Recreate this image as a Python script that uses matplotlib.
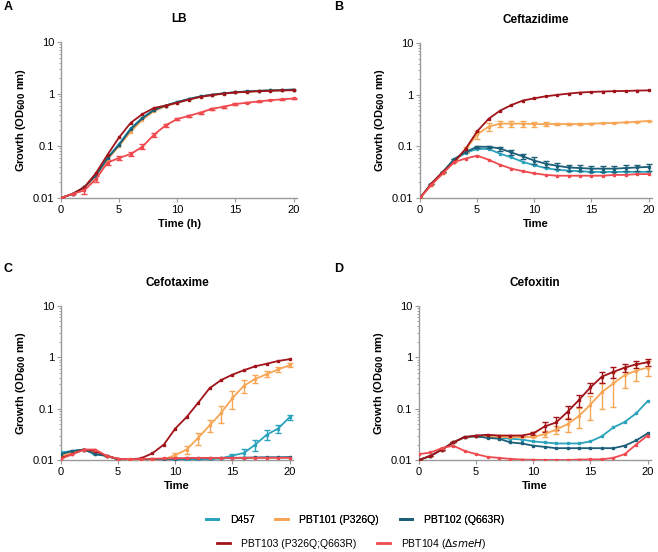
import numpy as np
import matplotlib.pyplot as plt
from matplotlib.ticker import LogLocator, FixedLocator, NullFormatter

plt.rcParams['font.family'] = ['Liberation Sans', 'DejaVu Sans']

hours = list(range(21))
strains = ['D457', 'PBT101 (P326Q)', 'PBT102 (Q663R)', 'PBT103 (P326Q;Q663R)', 'PBT104 ($\\Delta$$\\it{smeH}$)']
colors = ['#2ba3bd', '#f6a655', '#1c5f78', '#a0141a', '#ef4a50']

# panel A - LB
lb_d457 = [0.01, 0.012, 0.016, 0.028, 0.06, 0.11, 0.22, 0.35, 0.5, 0.6, 0.7, 0.8, 0.9, 0.97, 1.03, 1.08, 1.12, 1.15, 1.18, 1.2, 1.22]
lb_101 = [0.01, 0.012, 0.016, 0.026, 0.055, 0.1, 0.19, 0.32, 0.47, 0.58, 0.68, 0.79, 0.89, 0.96, 1.02, 1.07, 1.11, 1.14, 1.17, 1.19, 1.21]
lb_102 = [0.01, 0.012, 0.016, 0.027, 0.058, 0.105, 0.21, 0.34, 0.49, 0.6, 0.7, 0.8, 0.9, 0.97, 1.03, 1.08, 1.12, 1.15, 1.17, 1.19, 1.21]
lb_103 = [0.01, 0.012, 0.016, 0.03, 0.068, 0.147, 0.28, 0.41, 0.54, 0.6, 0.68, 0.78, 0.88, 0.95, 1.02, 1.07, 1.1, 1.13, 1.15, 1.17, 1.18]
lb_104 = [0.01, 0.012, 0.014, 0.023, 0.048, 0.059, 0.07, 0.097, 0.165, 0.25, 0.33, 0.38, 0.44, 0.52, 0.57, 0.64, 0.68, 0.72, 0.76, 0.79, 0.82]

# panel B - Ceftazidime
caz_d457 = [0.01, 0.019, 0.032, 0.055, 0.075, 0.089, 0.089, 0.072, 0.061, 0.05, 0.043, 0.038, 0.035, 0.034, 0.033, 0.032, 0.032, 0.032, 0.032, 0.032, 0.032]
caz_101 = [0.01, 0.018, 0.03, 0.05, 0.088, 0.17, 0.24, 0.275, 0.275, 0.275, 0.27, 0.27, 0.27, 0.27, 0.27, 0.275, 0.28, 0.285, 0.29, 0.3, 0.31]
caz_102 = [0.01, 0.019, 0.032, 0.057, 0.078, 0.098, 0.098, 0.091, 0.076, 0.064, 0.053, 0.046, 0.042, 0.039, 0.038, 0.037, 0.037, 0.037, 0.038, 0.039, 0.04]
caz_103 = [0.01, 0.019, 0.032, 0.05, 0.09, 0.195, 0.34, 0.49, 0.63, 0.77, 0.85, 0.93, 0.99, 1.05, 1.1, 1.13, 1.15, 1.17, 1.18, 1.2, 1.21]
caz_104 = [0.01, 0.018, 0.03, 0.05, 0.058, 0.066, 0.055, 0.044, 0.037, 0.033, 0.03, 0.028, 0.027, 0.027, 0.027, 0.027, 0.027, 0.028, 0.028, 0.029, 0.029]

# panel C - Cefotaxime
ctx_d457 = [0.014, 0.015, 0.016, 0.013, 0.012, 0.0105, 0.01, 0.0101, 0.0101, 0.0101, 0.0101, 0.0101, 0.0102, 0.0103, 0.0108, 0.0122, 0.0137, 0.02, 0.031, 0.041, 0.068]
ctx_101 = [0.012, 0.014, 0.016, 0.014, 0.012, 0.0105, 0.01, 0.0098, 0.0098, 0.0103, 0.0125, 0.016, 0.027, 0.047, 0.082, 0.16, 0.28, 0.38, 0.47, 0.58, 0.7]
ctx_102 = [0.013, 0.015, 0.016, 0.013, 0.012, 0.0102, 0.01, 0.0102, 0.0104, 0.0105, 0.0106, 0.0107, 0.0108, 0.0109, 0.011, 0.011, 0.0111, 0.0112, 0.0113, 0.0113, 0.0114]
ctx_103 = [0.011, 0.013, 0.016, 0.015, 0.012, 0.0105, 0.0102, 0.0108, 0.0135, 0.02, 0.041, 0.069, 0.13, 0.25, 0.36, 0.46, 0.56, 0.67, 0.75, 0.85, 0.92]
ctx_104 = [0.0105, 0.013, 0.016, 0.016, 0.012, 0.0105, 0.0103, 0.0105, 0.0106, 0.0107, 0.0108, 0.0109, 0.011, 0.011, 0.011, 0.011, 0.011, 0.011, 0.011, 0.011, 0.011]

# panel D - Cefoxitin
fox_d457 = [0.01, 0.012, 0.016, 0.022, 0.028, 0.029, 0.028, 0.027, 0.026, 0.025, 0.023, 0.022, 0.021, 0.021, 0.021, 0.023, 0.029, 0.043, 0.055, 0.081, 0.14]
fox_101 = [0.01, 0.012, 0.016, 0.022, 0.028, 0.029, 0.028, 0.028, 0.028, 0.028, 0.028, 0.032, 0.039, 0.05, 0.072, 0.12, 0.21, 0.31, 0.45, 0.55, 0.63]
fox_102 = [0.01, 0.012, 0.016, 0.022, 0.028, 0.029, 0.027, 0.026, 0.022, 0.021, 0.019, 0.018, 0.017, 0.017, 0.017, 0.017, 0.017, 0.017, 0.019, 0.024, 0.033]
fox_103 = [0.01, 0.012, 0.016, 0.022, 0.028, 0.03, 0.031, 0.03, 0.03, 0.03, 0.033, 0.045, 0.054, 0.087, 0.148, 0.26, 0.42, 0.52, 0.63, 0.73, 0.8]
fox_104 = [0.013, 0.014, 0.017, 0.019, 0.015, 0.013, 0.0115, 0.011, 0.0105, 0.0102, 0.0101, 0.01, 0.01, 0.01, 0.0102, 0.0103, 0.0103, 0.011, 0.013, 0.02, 0.03]

# visible error bars (absolute half-width), others left out
ctx_101_err = [0, 0, 0, 0, 0, 0, 0, 0, 0, 0, 0.001, 0.003, 0.007, 0.012, 0.03, 0.06, 0.08, 0.07, 0.06, 0.06, 0.06]
ctx_d457_err = [0, 0, 0, 0, 0, 0, 0, 0, 0, 0, 0, 0, 0, 0, 0, 0.001, 0.003, 0.005, 0.007, 0.007, 0.008]
fox_103_err = [0, 0, 0, 0, 0, 0, 0, 0, 0, 0, 0.002, 0.01, 0.015, 0.025, 0.04, 0.06, 0.1, 0.12, 0.12, 0.12, 0.12]
fox_101_err = [0, 0, 0, 0, 0, 0, 0, 0, 0, 0, 0, 0.004, 0.007, 0.015, 0.03, 0.06, 0.11, 0.2, 0.2, 0.2, 0.2]
caz_102_err = [0, 0, 0, 0, 0, 0.004, 0.005, 0.008, 0.008, 0.008, 0.008, 0.006, 0.005, 0.005, 0.005, 0.005, 0.005, 0.005, 0.005, 0.005, 0.006]
caz_101_err = [0, 0, 0, 0, 0.01, 0.03, 0.04, 0.04, 0.04, 0.04, 0.03, 0.02, 0.015, 0.01, 0.01, 0.01, 0, 0, 0, 0, 0]
lb_104_err = [0, 0, 0.002, 0.003, 0.005, 0.004, 0.005, 0.01, 0.015, 0.02, 0.02, 0.02, 0.02, 0.02, 0.02, 0.02, 0.01, 0.01, 0.01, 0.01, 0.01]

panels = [
    ('A', 'LB', 'Time (h)', [lb_d457, lb_101, lb_102, lb_103, lb_104], {4: lb_104_err}, [61, 42, 236, 156]),
    ('B', 'Ceftazidime', 'Time', [caz_d457, caz_101, caz_102, caz_103, caz_104], {1: caz_101_err, 2: caz_102_err}, [420, 43, 232, 155]),
    ('C', 'Cefotaxime', 'Time', [ctx_d457, ctx_101, ctx_102, ctx_103, ctx_104], {0: ctx_d457_err, 1: ctx_101_err}, [61, 306, 232, 154]),
    ('D', 'Cefoxitin', 'Time', [fox_d457, fox_101, fox_102, fox_103, fox_104], {1: fox_101_err, 3: fox_103_err}, [419, 306, 232, 154]),
]

W, H = 658, 552
fig = plt.figure(figsize=(W / 100, H / 100), dpi=100)
grey = '#9a9a9a'
handles = {}

for letter, title, xlab, series, errs, (px, py, pw, ph) in panels:
    ax = fig.add_axes([px / W, (H - py - ph) / H, pw / W, ph / H])
    for k in [4, 0, 2, 1, 3]:
        y = series[k]
        ln, = ax.plot(hours, y, color=colors[k], lw=1.3, marker='s', ms=1.5, zorder=3 + k * 0.1)
        if k in errs:
            ax.errorbar(hours, y, yerr=errs[k], fmt='none', ecolor=colors[k], elinewidth=1.0, capsize=2.5, capthick=1.0, zorder=3)
        if letter == 'A':
            handles[k] = ln
    ax.set_yscale('log')
    ax.set_ylim(0.01, 10)
    ax.set_xlim(0, 20.3)
    ax.set_xticks([0, 5, 10, 15, 20])
    ax.yaxis.set_major_locator(FixedLocator([0.01, 0.1, 1, 10]))
    ax.set_yticklabels(['0.01', '0.1', '1', '10'])
    ax.yaxis.set_minor_locator(LogLocator(base=10, subs=np.arange(2, 10)))
    ax.yaxis.set_minor_formatter(NullFormatter())
    for s in ['top', 'right']:
        ax.spines[s].set_visible(False)
    for s in ['left', 'bottom']:
        ax.spines[s].set_color(grey)
        ax.spines[s].set_linewidth(1.0)
    ax.tick_params(axis='both', which='major', labelsize=8, color=grey, length=3, pad=2)
    ax.tick_params(axis='y', which='minor', color=grey, length=1.5)
    ax.set_xlabel(xlab, fontsize=8, fontweight='bold', labelpad=3)
    ax.set_ylabel('Growth (OD$_{\\mathbf{600}}$ nm)', fontsize=8, fontweight='bold', labelpad=3)
    fig.text((px + pw / 2) / W, 1 - (py - 23) / H, title, ha='center', va='center', fontsize=8.5, fontweight='bold')
    lx = 4 if letter in 'AC' else 334
    ly = 7 if letter in 'AB' else 269
    fig.text(lx / W, 1 - ly / H, letter, ha='left', va='center', fontsize=9, fontweight='bold')

leg_kw = dict(loc='center', frameon=False, fontsize=7.5, handlelength=1.2, handletextpad=1.1, columnspacing=2.0)
leg1 = fig.legend([handles[i] for i in [0, 1, 2]], strains[:3], bbox_to_anchor=(355 / W, 1 - 520 / H), ncol=3, **leg_kw)
leg2 = fig.legend([handles[i] for i in [3, 4]], strains[3:], bbox_to_anchor=(352 / W, 1 - 544 / H), ncol=2, **leg_kw)
for leg in [leg1, leg2]:
    for l in leg.get_lines():
        l.set_marker('')
        l.set_linewidth(2)
fig.add_artist(leg1)

fig.savefig('out.png', dpi=100)
